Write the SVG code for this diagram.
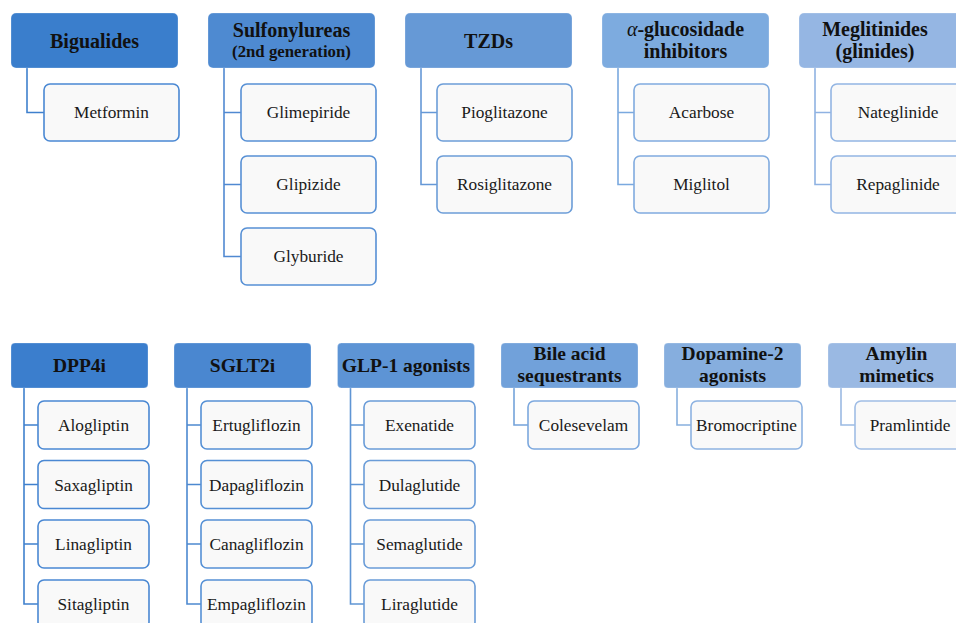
<svg xmlns="http://www.w3.org/2000/svg" width="956" height="623" viewBox="0 0 956 623">
<style>
.h{stroke:#ffffff;stroke-opacity:0.25;stroke-width:1}
.c{fill:#f9f9f9;stroke-width:1.6}
.ht{font-family:"Liberation Serif","Times New Roman",serif;font-weight:bold;font-size:20px;fill:#111;text-anchor:middle}
.hs{font-size:16.8px}
.hb{font-size:19.5px}
.ct{font-family:"Liberation Serif","Times New Roman",serif;font-size:17.3px;fill:#1a1a1a;text-anchor:middle}
.ln{fill:none;stroke-width:1.6}
</style>
<rect width="956" height="623" fill="#ffffff"/>
<g id="connectors">
<path class="ln" stroke="#3f80cd" d="M27 68V112.5H44"/>
<path class="ln" stroke="#5089d1" d="M224 68V256.5H241M224 112.5H241M224 184.5H241"/>
<path class="ln" stroke="#6598d6" d="M421 68V184.5H437M421 112.5H437"/>
<path class="ln" stroke="#7aa9df" d="M618 68V184.5H634M618 112.5H634"/>
<path class="ln" stroke="#8fb2e2" d="M815 68V184.5H831M815 112.5H831"/>
<path class="ln" stroke="#3f80cd" d="M24 388V604H38M24 425H38M24 484.5H38M24 544H38"/>
<path class="ln" stroke="#4d89d0" d="M187 388V604H201M187 425H201M187 484.5H201M187 544H201"/>
<path class="ln" stroke="#5f95d4" d="M350.5 388V604H364M350.5 425H364M350.5 484.5H364M350.5 544H364"/>
<path class="ln" stroke="#74a3da" d="M514 388V425H528"/>
<path class="ln" stroke="#88b0de" d="M677 388V425H691"/>
<path class="ln" stroke="#9bbae3" d="M841 388V425H855"/>
</g>
<g id="bigualides">
<rect class="h" x="11" y="13" width="167" height="55" rx="5" fill="#3a7ecc"/>
<text class="ht" x="94.5" y="47.5">Bigualides</text>
</g>
<g id="metformin">
<rect class="c" stroke="#4a88d3" x="44" y="84" width="135" height="57" rx="6"/>
<text class="ct" x="111.5" y="118">Metformin</text>
</g>
<g id="sulfonylureas">
<rect class="h" x="208" y="13" width="167" height="55" rx="5" fill="#4e8ad1"/>
<text class="ht" x="291.5" y="37">Sulfonylureas</text>
<text class="ht hs" x="291.5" y="57">(2nd generation)</text>
</g>
<g id="glimepiride">
<rect class="c" stroke="#5790d5" x="241" y="84" width="135" height="57" rx="6"/>
<text class="ct" x="308.5" y="118">Glimepiride</text>
</g>
<g id="glipizide">
<rect class="c" stroke="#5790d5" x="241" y="156" width="135" height="57" rx="6"/>
<text class="ct" x="308.5" y="190">Glipizide</text>
</g>
<g id="glyburide">
<rect class="c" stroke="#5790d5" x="241" y="228" width="135" height="57" rx="6"/>
<text class="ct" x="308.5" y="262">Glyburide</text>
</g>
<g id="tzds">
<rect class="h" x="405" y="13" width="167" height="55" rx="5" fill="#6699d6"/>
<text class="ht" x="488.5" y="47.5">TZDs</text>
</g>
<g id="pioglitazone">
<rect class="c" stroke="#6c9dd8" x="437" y="84" width="135" height="57" rx="6"/>
<text class="ct" x="504.5" y="118">Pioglitazone</text>
</g>
<g id="rosiglitazone">
<rect class="c" stroke="#6c9dd8" x="437" y="156" width="135" height="57" rx="6"/>
<text class="ct" x="504.5" y="190">Rosiglitazone</text>
</g>
<g id="alpha-glucosidase">
<rect class="h" x="602" y="13" width="167" height="55" rx="5" fill="#7dabdf"/>
<text class="ht" x="685.5" y="36"><tspan font-style="italic" font-weight="normal">α</tspan>-glucosidade</text>
<text class="ht" x="685.5" y="58">inhibitors</text>
</g>
<g id="acarbose">
<rect class="c" stroke="#80abdf" x="634" y="84" width="135" height="57" rx="6"/>
<text class="ct" x="701.5" y="118">Acarbose</text>
</g>
<g id="miglitol">
<rect class="c" stroke="#80abdf" x="634" y="156" width="135" height="57" rx="6"/>
<text class="ct" x="701.5" y="190">Miglitol</text>
</g>
<g id="meglitinides">
<rect class="h" x="799" y="13" width="167" height="55" rx="5" fill="#95b6e3"/>
<text class="ht" x="875" y="36">Meglitinides</text>
<text class="ht" x="875" y="58">(glinides)</text>
</g>
<g id="nateglinide">
<rect class="c" stroke="#93b5e3" x="831" y="84" width="135" height="57" rx="6"/>
<text class="ct" x="898" y="118">Nateglinide</text>
</g>
<g id="repaglinide">
<rect class="c" stroke="#93b5e3" x="831" y="156" width="135" height="57" rx="6"/>
<text class="ct" x="898" y="190">Repaglinide</text>
</g>
<g id="dpp4i">
<rect class="h" x="11" y="343" width="137" height="45" rx="4" fill="#3b7ecd"/>
<text class="ht hb" x="79.5" y="372">DPP4i</text>
</g>
<g id="alogliptin">
<rect class="c" stroke="#4a88d3" x="38" y="401" width="111" height="48" rx="6"/>
<text class="ct" x="93.5" y="431">Alogliptin</text>
</g>
<g id="saxagliptin">
<rect class="c" stroke="#4a88d3" x="38" y="460.5" width="111" height="48" rx="6"/>
<text class="ct" x="93.5" y="490.5">Saxagliptin</text>
</g>
<g id="linagliptin">
<rect class="c" stroke="#4a88d3" x="38" y="520" width="111" height="48" rx="6"/>
<text class="ct" x="93.5" y="550">Linagliptin</text>
</g>
<g id="sitagliptin">
<rect class="c" stroke="#4a88d3" x="38" y="580" width="111" height="48" rx="6"/>
<text class="ct" x="93.5" y="610">Sitagliptin</text>
</g>
<g id="sglt2i">
<rect class="h" x="174" y="343" width="137" height="45" rx="4" fill="#4a87d0"/>
<text class="ht hb" x="242.5" y="372">SGLT2i</text>
</g>
<g id="ertugliflozin">
<rect class="c" stroke="#5590d5" x="201" y="401" width="111" height="48" rx="6"/>
<text class="ct" x="256.5" y="431">Ertugliflozin</text>
</g>
<g id="dapagliflozin">
<rect class="c" stroke="#5590d5" x="201" y="460.5" width="111" height="48" rx="6"/>
<text class="ct" x="256.5" y="490.5">Dapagliflozin</text>
</g>
<g id="canagliflozin">
<rect class="c" stroke="#5590d5" x="201" y="520" width="111" height="48" rx="6"/>
<text class="ct" x="256.5" y="550">Canagliflozin</text>
</g>
<g id="empagliflozin">
<rect class="c" stroke="#5590d5" x="201" y="580" width="111" height="48" rx="6"/>
<text class="ct" x="256.5" y="610">Empagliflozin</text>
</g>
<g id="glp1">
<rect class="h" x="337.5" y="343" width="137" height="45" rx="4" fill="#5d94d5"/>
<text class="ht hb" x="406" y="372">GLP-1 agonists</text>
</g>
<g id="exenatide">
<rect class="c" stroke="#6a9cd8" x="364" y="401" width="111" height="48" rx="6"/>
<text class="ct" x="419.5" y="431">Exenatide</text>
</g>
<g id="dulaglutide">
<rect class="c" stroke="#6a9cd8" x="364" y="460.5" width="111" height="48" rx="6"/>
<text class="ct" x="419.5" y="490.5">Dulaglutide</text>
</g>
<g id="semaglutide">
<rect class="c" stroke="#6a9cd8" x="364" y="520" width="111" height="48" rx="6"/>
<text class="ct" x="419.5" y="550">Semaglutide</text>
</g>
<g id="liraglutide">
<rect class="c" stroke="#6a9cd8" x="364" y="580" width="111" height="48" rx="6"/>
<text class="ct" x="419.5" y="610">Liraglutide</text>
</g>
<g id="bile-acid">
<rect class="h" x="501" y="343" width="137" height="45" rx="4" fill="#71a1da"/>
<text class="ht hb" x="569.5" y="360">Bile acid</text>
<text class="ht hb" x="569.5" y="382">sequestrants</text>
</g>
<g id="colesevelam">
<rect class="c" stroke="#7ca8de" x="528" y="401" width="111" height="48" rx="6"/>
<text class="ct" x="583.5" y="431">Colesevelam</text>
</g>
<g id="dopamine">
<rect class="h" x="664" y="343" width="137" height="45" rx="4" fill="#86aede"/>
<text class="ht hb" x="732.5" y="360">Dopamine-2</text>
<text class="ht hb" x="732.5" y="382">agonists</text>
</g>
<g id="bromocriptine">
<rect class="c" stroke="#8db2e1" x="691" y="401" width="111" height="48" rx="6"/>
<text class="ct" x="746.5" y="431">Bromocriptine</text>
</g>
<g id="amylin">
<rect class="h" x="828" y="343" width="137" height="45" rx="4" fill="#9ab9e3"/>
<text class="ht hb" x="896.5" y="360">Amylin</text>
<text class="ht hb" x="896.5" y="382">mimetics</text>
</g>
<g id="pramlintide">
<rect class="c" stroke="#a0bde5" x="855" y="401" width="111" height="48" rx="6"/>
<text class="ct" x="910" y="431">Pramlintide</text>
</g>
</svg>
